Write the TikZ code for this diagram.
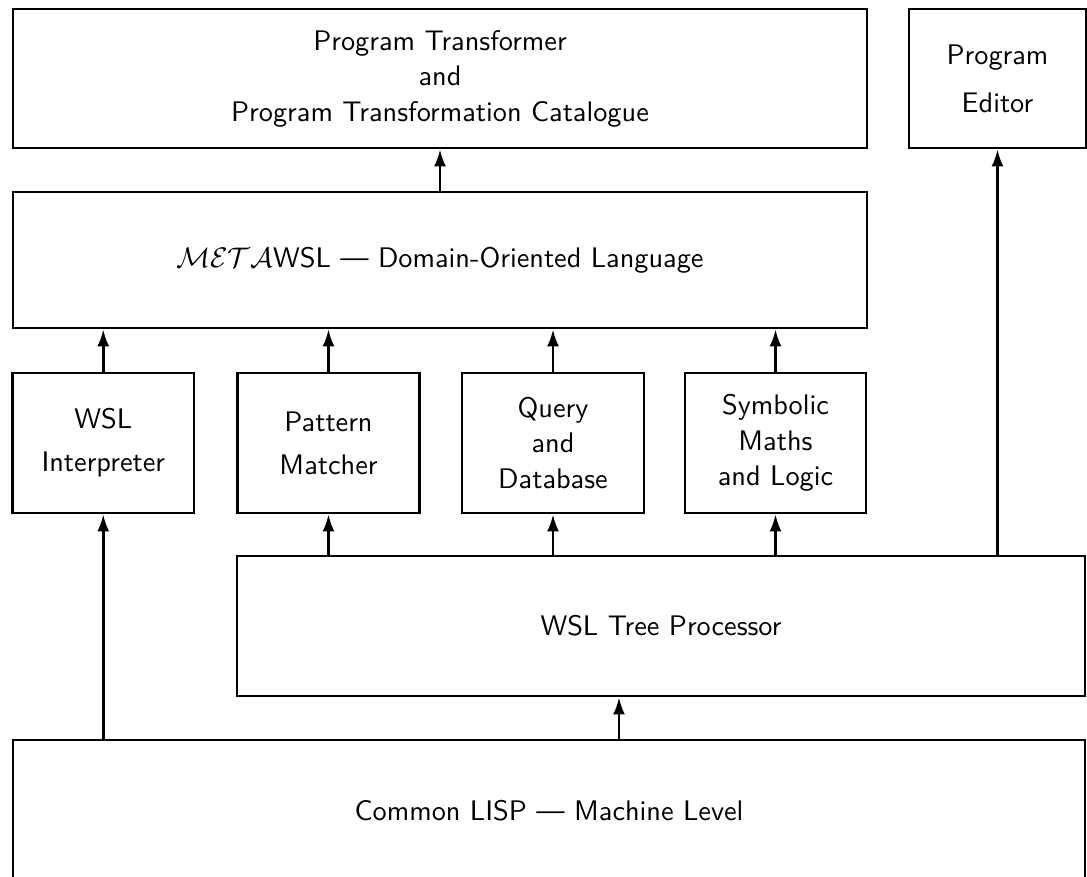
\RequirePackage{fix-cm}
\documentclass[tikz,border=0pt]{standalone}
\usepackage{fontspec}
\newfontfamily\boxfont{lmsans10-regular.otf}
\usetikzlibrary{arrows.meta}

\tikzset{
  blk/.style={draw, line width=2.8pt, rectangle, inner sep=0pt, align=center,
    font=\boxfont\fontsize{28.3}{35.5}\selectfont},
  twoline/.style={font=\boxfont\fontsize{28.3}{43}\selectfont},
  wideline/.style={font=\boxfont\fontsize{28.3}{48}\selectfont},
  uparrow/.style={line width=2.6pt, -{Latex[length=17pt,width=12pt]}},
}

\begin{document}
\begin{tikzpicture}[x=1pt, y=-1pt]
\path[use as bounding box] (0,0) rectangle (1087,877);
\begin{scope}
\clip (0,0) rectangle (1087,877);

% upper layer
\node[blk, minimum width=854pt, minimum height=139pt] (trans) at (440,78.5)
  {Program Transformer\\and\\Program Transformation Catalogue};
\node[blk, wideline, minimum width=177pt, minimum height=139pt] (edit) at (997.5,78.5)
  {Program\\Editor};

\node[blk, minimum width=854pt, minimum height=136pt] (meta) at (440,260)
  {$\mathcal{META}$WSL — Domain-Oriented Language};

% tool layer
\node[blk, twoline, minimum width=181.5pt, minimum height=140pt] (interp) at (103.25,443)
  {WSL\\Interpreter};
\node[blk, twoline, minimum width=182pt, minimum height=140pt] (match) at (328.5,443)
  {Pattern\\Matcher};
\node[blk, minimum width=182pt, minimum height=140pt] (query) at (553,443)
  {Query\\and\\Database};
\node[blk, minimum width=181pt, minimum height=140pt] (symb) at (775.5,443)
  {Symbolic\\Maths\\and Logic};

% base layers
\node[blk, minimum width=848pt, minimum height=140pt] (tree) at (661,626)
  {WSL Tree Processor};
\node[blk, minimum width=1072pt, minimum height=142pt] (lisp) at (549,811)
  {Common LISP — Machine Level};

\coordinate (lispout) at (619,740);

% connectors
\draw[uparrow] (meta.north) -- (trans.south);
\draw[uparrow] (interp.north) -- (interp.north |- meta.south);
\draw[uparrow] (match.north) -- (match.north |- meta.south);
\draw[uparrow] (query.north) -- (query.north |- meta.south);
\draw[uparrow] (symb.north) -- (symb.north |- meta.south);

\draw[uparrow] (match.south |- tree.north) -- (match.south);
\draw[uparrow] (query.south |- tree.north) -- (query.south);
\draw[uparrow] (symb.south |- tree.north) -- (symb.south);
\draw[uparrow] (edit.south |- tree.north) -- (edit.south);

\draw[uparrow] (interp.south |- lisp.north) -- (interp.south);
\draw[uparrow] (lispout) -- (lispout |- tree.south);
\end{scope}
\end{tikzpicture}
\end{document}
